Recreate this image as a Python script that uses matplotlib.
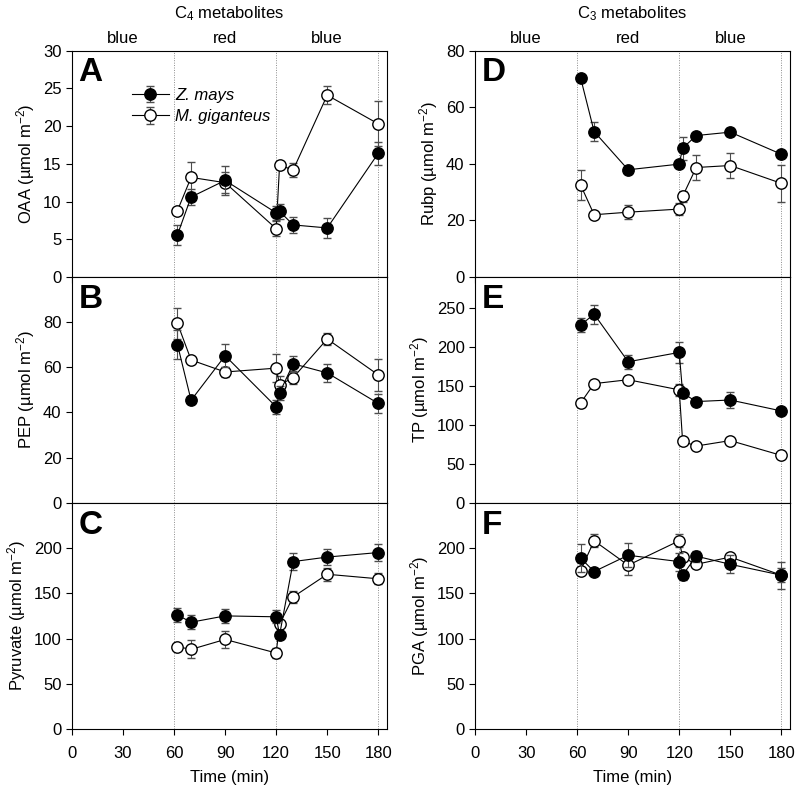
import matplotlib
matplotlib.use("Agg")
import matplotlib.pyplot as plt
import numpy as np

plt.rcParams["font.family"] = ["Liberation Sans", "DejaVu Sans"]
plt.rcParams["mathtext.fontset"] = "custom"
plt.rcParams["mathtext.rm"] = "Liberation Sans"
plt.rcParams["mathtext.it"] = "Liberation Sans:italic"

time = [62, 70, 90, 120, 122, 130, 150, 180]

# C4 metabolites
oaa_zm = [5.6, 10.6, 12.8, 8.5, 8.7, 6.9, 6.5, 16.4]
oaa_zm_err = [1.3, 1.1, 1.9, 0.9, 1.0, 1.1, 1.3, 1.5]
oaa_mg = [8.8, 13.2, 12.5, 6.4, 14.8, 14.2, 24.1, 20.3]
oaa_mg_err = [0.3, 2.0, 1.4, 1.0, 0.3, 0.9, 1.2, 3.0]

pep_zm = [70.0, 45.4, 65.1, 42.5, 48.7, 61.5, 57.5, 44.0]
pep_zm_err = [6.3, 0.5, 5.0, 3.0, 3.0, 3.4, 4.0, 4.2]
pep_mg = [79.4, 63.2, 57.9, 59.6, 52.2, 55.4, 72.5, 56.6]
pep_mg_err = [6.8, 1.0, 2.0, 6.3, 4.0, 3.0, 2.6, 7.0]

pyr_zm = [126, 118, 125, 124, 104, 185, 190, 195]
pyr_zm_err = [8, 8, 8, 7, 3, 9, 9, 9]
pyr_mg = [91, 88, 99, 84, 116, 146, 171, 166]
pyr_mg_err = [3, 10, 9.5, 5, 2, 7, 7, 6]

# C3 metabolites
rubp_zm = [70.5, 51.4, 37.9, 39.9, 45.5, 50.0, 51.2, 43.4]
rubp_zm_err = [1.0, 3.4, 0.8, 1.0, 4.0, 1.0, 1.5, 1.0]
rubp_mg = [32.6, 22.0, 22.9, 24.0, 28.5, 38.7, 39.4, 33.1]
rubp_mg_err = [5.3, 0.8, 2.5, 2.0, 2.0, 4.3, 4.4, 6.5]

tp_zm = [228, 242, 181, 193, 141, 130, 132, 118]
tp_zm_err = [9, 12, 9, 13, 5, 3, 10, 3]
tp_mg = [128, 153, 158, 145, 79, 73, 80, 61]
tp_mg_err = [2, 2, 2, 8, 2, 2, 2, 2]

pga_zm = [189, 174, 192, 185, 170, 191, 182, 170]
pga_zm_err = [15, 3, 13, 10, 5, 6, 10, 8]
pga_mg = [175, 208, 181, 208, 190, 182, 190, 170]
pga_mg_err = [3, 7, 11, 7, 3, 3, 3, 15]

panels = [
    ("A", "OAA", oaa_zm, oaa_zm_err, oaa_mg, oaa_mg_err, 30, np.arange(0, 31, 5)),
    ("B", "PEP", pep_zm, pep_zm_err, pep_mg, pep_mg_err, 100, np.arange(0, 81, 20)),
    ("C", "Pyruvate", pyr_zm, pyr_zm_err, pyr_mg, pyr_mg_err, 250, np.arange(0, 201, 50)),
    ("D", "Rubp", rubp_zm, rubp_zm_err, rubp_mg, rubp_mg_err, 80, np.arange(0, 81, 20)),
    ("E", "TP", tp_zm, tp_zm_err, tp_mg, tp_mg_err, 290, np.arange(0, 251, 50)),
    ("F", "PGA", pga_zm, pga_zm_err, pga_mg, pga_mg_err, 250, np.arange(0, 201, 50)),
]

fig = plt.figure(figsize=(7.97, 7.92), dpi=100)
col_left = [0.0903, 0.596]
col_width = 0.395
row_bottom = [0.6503, 0.3649, 0.0795]
row_height = 0.2857

axes = []
for i, (letter, name, zm, zm_err, mg, mg_err, ytop, yticks) in enumerate(panels):
    col, row = divmod(i, 3)
    ax = fig.add_axes([col_left[col], row_bottom[row], col_width, row_height])
    axes.append(ax)
    for xv in [60, 120, 180]:
        ax.axvline(xv, color="0.55", lw=0.7, ls=(0, (1, 1.5)), zorder=0)
    ax.errorbar(time, zm, yerr=zm_err, fmt="-o", color="black", mfc="black",
                mec="black", ms=8.2, lw=0.8, elinewidth=0.8, ecolor="0.3",
                capsize=3, label="Z. mays", zorder=3)
    ax.errorbar(time, mg, yerr=mg_err, fmt="-o", color="black", mfc="white",
                mec="black", ms=8.2, lw=0.8, elinewidth=0.8, ecolor="0.3",
                capsize=3, label="M. giganteus", zorder=2)
    ax.set_xlim(0, 185)
    ax.set_ylim(0, ytop)
    ax.set_yticks(yticks)
    ax.set_xticks(np.arange(0, 181, 30))
    ax.tick_params(direction="out", labelsize=12, length=4, width=0.8)
    ax.tick_params(axis="x", pad=8)
    ax.set_ylabel(f"{name} (µmol m$^{{-2}}$)", fontsize=12, labelpad=4)
    ax.text(0.02, 0.97, letter, transform=ax.transAxes, fontsize=24,
            fontweight="bold", va="top", ha="left")
    for sp in ax.spines.values():
        sp.set_linewidth(0.8)
    if row < 2:
        ax.tick_params(labelbottom=False)
    else:
        ax.set_xlabel("Time (min)", fontsize=12, labelpad=7)
    if row == 0:
        for xc, lab in [(30, "blue"), (90, "red"), (150, "blue")]:
            ax.text(xc, ytop * 1.02, lab, ha="center", va="bottom", fontsize=12)
        title = "C$_4$ metabolites" if col == 0 else "C$_3$ metabolites"
        ax.text(0.5, 1.165, title, transform=ax.transAxes, ha="center",
                va="center", fontsize=12)

leg = axes[0].legend(loc="upper left", bbox_to_anchor=(0.17, 0.865), frameon=False,
                     fontsize=12, handlelength=2.2, handletextpad=0.4,
                     borderaxespad=0, labelspacing=0.38)
for t in leg.get_texts():
    t.set_fontstyle("italic")

fig.savefig("out.png", dpi=100)
